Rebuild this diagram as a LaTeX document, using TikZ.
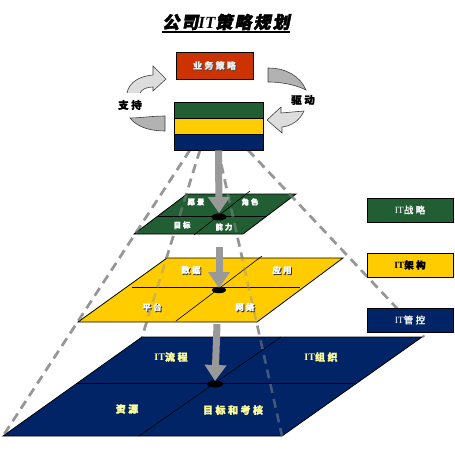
\documentclass[tikz,border=0pt]{standalone}
\usepackage{fontspec}
\setmainfont{Liberation Serif}
\newfontfamily\cjk[LetterSpace=25,FakeBold=1.5]{Noto Sans CJK SC}
\newfontfamily\cjktitle[FakeSlant=0.2,LetterSpace=12,FakeBold=2.5]{Noto Sans CJK SC}
\usetikzlibrary{arrows.meta,shapes.geometric}
\definecolor{plgreen}{RGB}{33,94,52}
\definecolor{plyellow}{RGB}{255,204,0}
\definecolor{plnavy}{RGB}{0,36,102}
\definecolor{bizred}{RGB}{204,51,0}
\definecolor{arrowgray}{RGB}{153,153,153}
\definecolor{guidegray}{RGB}{150,150,150}
\definecolor{lightarr}{RGB}{221,221,221}
\definecolor{darkarr}{RGB}{178,178,178}
\definecolor{navytext}{RGB}{255,255,153}
\tikzset{
  plane/.style={draw=black, line width=0.8pt},
  divline/.style={draw=black, line width=0.6pt},
  guide/.style={draw=guidegray, line width=2.6pt, dash pattern=on 9pt off 6pt},
  bigarrow/.style={draw=arrowgray, line width=7pt, -{Triangle[width=21pt,length=16pt]}},
  dotmark/.style={ellipse, fill=black, inner sep=0pt, minimum width=15pt, minimum height=7pt},
  boxstyle/.style={draw=black, line width=0.8pt, inner sep=0pt},
  curvedarr/.style={draw=black!75, line width=0.6pt},
  gtxt/.style={text=white, font=\cjk\bfseries\fontsize{7.5}{8}\selectfont, inner sep=0pt},
  ytxt/.style={text=white, font=\cjk\bfseries\fontsize{8.5}{9}\selectfont, inner sep=0pt},
  ytxtsh/.style={text=black!80, font=\cjk\bfseries\fontsize{8.5}{9}\selectfont, inner sep=0pt},
  ntxt/.style={text=navytext, font=\bfseries\fontsize{10}{11}\selectfont, inner sep=0pt},
  lbl/.style={text=black, font=\cjk\bfseries\fontsize{10.5}{11}\selectfont, inner sep=0pt},
  legtxt/.style={font=\fontsize{9.5}{10}\selectfont, inner sep=0pt}
}
\begin{document}
\begin{tikzpicture}[x=1pt,y=-1pt]
\useasboundingbox (0,0) rectangle (455,456);

% title
\node[inner sep=0pt, font=\bfseries\itshape\fontsize{17}{18}\selectfont] (title) at (226,22)
  {{\cjktitle 公司}IT{\cjktitle 策略规划}};
\draw[line width=1.3pt] (title.south west |- 0,32) -- (title.south east |- 0,32);

% guide lines (behind)
\coordinate (gla) at (190,150); \coordinate (glb) at (3,436);
\coordinate (gma) at (200,150); \coordinate (gmb) at (142,337);
\coordinate (gna) at (218,150); \coordinate (gnb) at (282,436);
\coordinate (gra) at (248,150); \coordinate (grb) at (424,337);
\draw[guide] (gla) -- (glb);
\draw[guide] (gma) -- (gmb);
\draw[guide] (gna) -- (gnb);
\draw[guide] (gra) -- (grb);

% planes
\filldraw[plane, fill=plgreen] (187,194) -- (296,194) -- (243,234) -- (134,234) -- cycle;
\draw[divline] (158,216) -- (267,216);
\draw[divline] (250,191) -- (194,235);

\filldraw[plane, fill=plyellow] (167,258) -- (343,258) -- (257,322) -- (78,322) -- cycle;
\draw[divline] (132,287) -- (300,287);
\draw[divline] (262,256) -- (176,321);

\filldraw[plane, fill=plnavy] (142,337) -- (422,337) -- (282,436) -- (3,436) -- cycle;
\draw[divline] (78,383) -- (356,383);
\draw[divline] (281,337) -- (139,436);

% guide lines over planes (faint)
\draw[guide, opacity=0.45] (gla) -- (glb);
\draw[guide, opacity=0.45] (gma) -- (gmb);
\draw[guide, opacity=0.45] (gna) -- (gnb);
\draw[guide, opacity=0.45] (gra) -- (grb);

% business box and stacked box
\node[boxstyle, fill=bizred, minimum width=77pt, minimum height=27pt] (biz) at (214.5,65.5) {};
\node[text=black!70, font=\cjk\bfseries\fontsize{9}{10}\selectfont, inner sep=0pt] (bizsh) at (215.5,66.5) {业务策略};
\node[text=white!92!black, font=\cjk\bfseries\fontsize{9}{10}\selectfont, inner sep=0pt] (biztxt) at (214.5,65.5) {业务策略};

\node[boxstyle, fill=plgreen, minimum width=89pt, minimum height=16pt] (sg) at (218.5,110) {};
\node[boxstyle, fill=plyellow, minimum width=89pt, minimum height=16pt] (sy) at (218.5,126) {};
\node[boxstyle, fill=plnavy, minimum width=89pt, minimum height=16pt] (sn) at (218.5,142) {};

% curved arrows
\fill[lightarr] (127,93) .. controls (129,82) and (140,76) .. (153,75) -- (153,66) -- (166,79) -- (153,91) -- (153,87) .. controls (147,87) and (142,89) .. (140,93) -- cycle;
\draw[curvedarr] (127,93) .. controls (129,82) and (140,76) .. (153,75) -- (153,66) -- (166,79) -- (153,91) -- (153,87) .. controls (147,87) and (142,89) .. (140,93);
\filldraw[curvedarr, fill=darkarr] (130,118) .. controls (140,118) and (152,116) .. (165,116) -- (165,131) .. controls (150,131) and (137,127) .. (130,118) -- cycle;
\filldraw[curvedarr, fill=darkarr] (268,68) .. controls (286,68) and (300,76) .. (306,90) .. controls (298,86) and (285,82) .. (268,82) -- cycle;
\filldraw[curvedarr, fill=lightarr] (304,111) -- (281,113) -- (281,107) -- (267,120) -- (282,133) -- (282,127) .. controls (292,126) and (300,120) .. (304,111) -- cycle;
\node[lbl] (support) at (130,105) {支持};
\node[lbl] (drive) at (303,100) {驱动};

% dots and arrows
\node[dotmark] (d1) at (219,217) {};
\node[dotmark, minimum width=14pt, minimum height=6.5pt] (d2) at (219,290) {};
\node[dotmark, minimum width=16pt] (d3) at (215,384) {};
\coordinate (a2s) at (219,247);
\coordinate (a3s) at (217,324);
\draw[bigarrow] (sn.south) -- (219,213);
\draw[bigarrow] (a2s) -- (219,288);
\draw[bigarrow] (a3s) -- (215,381);

% green texts
\node[gtxt] (g1) at (196,202) {愿景};
\node[gtxt] (g2) at (250,202) {角色};
\node[gtxt] (g3) at (182,225) {目标};
\node[gtxt] (g4) at (224,227) {能力};

% yellow texts
\node[ytxtsh] (y1s) at (192,271) {数据};
\node[ytxt] (y1) at (191,270) {数据};
\node[ytxtsh] (y2s) at (283,271) {应用};
\node[ytxt] (y2) at (282,270) {应用};
\node[ytxtsh] (y3s) at (153,308) {平台};
\node[ytxt] (y3) at (152,307) {平台};
\node[ytxtsh] (y4s) at (246,308) {网络};
\node[ytxt] (y4) at (245,307) {网络};

% navy texts
\node[ntxt] (n1) at (171,357) {IT{\cjk 流程}};
\node[ntxt] (n2) at (321,357) {IT{\cjk 组织}};
\node[ntxt] (n3) at (127,409) {{\cjk 资源}};
\node[ntxt] (n4) at (233,410) {{\cjk 目标和考核}};

% legend
\node[boxstyle, fill=plgreen, minimum width=86pt, minimum height=24pt] (lg) at (410,210) {};
\node[legtxt, text=white] (lgt) at (410,210) {IT{\cjk 战略}};
\node[boxstyle, fill=plyellow, minimum width=86pt, minimum height=24pt] (ly) at (410,265) {};
\node[legtxt, text=black, font=\bfseries\fontsize{9.5}{10}\selectfont] (lyt) at (410,265) {IT{\cjk 架构}};
\node[boxstyle, fill=plnavy, minimum width=86pt, minimum height=24pt] (ln) at (410,320) {};
\node[legtxt, text=white] (lnt) at (410,320) {IT{\cjk 管控}};
\end{tikzpicture}
\end{document}
